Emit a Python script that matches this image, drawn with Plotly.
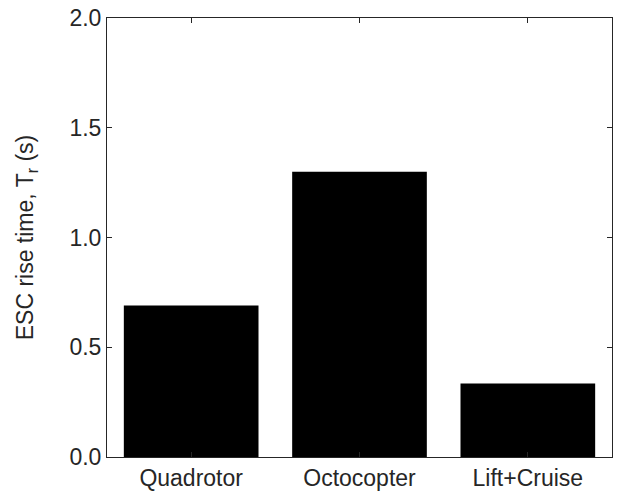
import plotly.graph_objects as go

categories = ["Quadrotor", "Octocopter", "Lift+Cruise"]
rise_time = [0.69, 1.30, 0.335]
y_ticks = [0.0, 0.5, 1.0, 1.5, 2.0]

axis_color = "#262626"
font_family = "Liberation Sans, Arial, Helvetica, sans-serif"

fig = go.Figure(
    go.Bar(x=categories, y=rise_time, marker=dict(color="black", line=dict(width=0)))
)

fig.update_layout(
    width=618,
    height=496,
    margin=dict(l=107, r=5, t=15, b=36),
    plot_bgcolor="white",
    paper_bgcolor="white",
    bargap=0.2,
    showlegend=False,
    font=dict(family=font_family, size=23, color=axis_color),
)

fig.update_xaxes(
    showline=True, linecolor=axis_color, linewidth=1, mirror="ticks",
    ticks="inside", ticklen=5, tickcolor=axis_color, tickwidth=1,
    showgrid=False, tickfont=dict(size=23, color=axis_color),
)
fig.update_yaxes(
    range=[0, 2.0], tickvals=y_ticks, tickformat=".1f",
    showline=True, linecolor=axis_color, linewidth=1, mirror="ticks",
    ticks="inside", ticklen=5, tickcolor=axis_color, tickwidth=1,
    showgrid=False, zeroline=False, tickfont=dict(size=23, color=axis_color),
    title=dict(text="ESC rise time, T<sub>r</sub> (s)", font=dict(size=23, color=axis_color), standoff=29),
)

fig.write_html("out.html")
